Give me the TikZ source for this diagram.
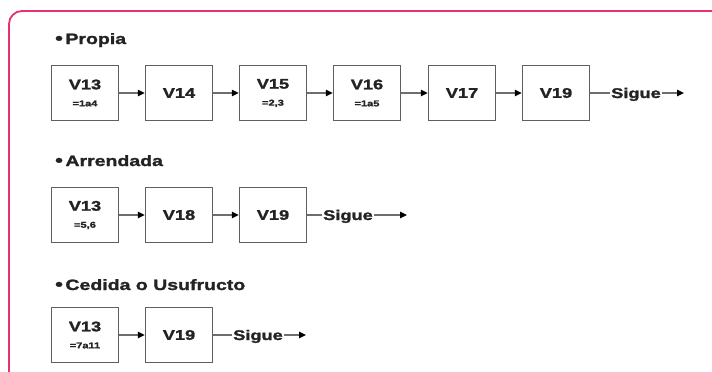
\documentclass[tikz,border=0pt]{standalone}
\usepackage{fontspec}
\setmainfont{Liberation Sans}
\newfontfamily\widefont{Liberation Sans Bold}[FakeStretch=1.3,FakeBold=1.6]
\usetikzlibrary{arrows.meta}
\definecolor{framecol}{RGB}{229,51,110}
\definecolor{boxgray}{RGB}{95,95,95}
\definecolor{linegray}{RGB}{110,110,110}
\definecolor{txt}{RGB}{35,35,35}
\newcommand\subtxt[1]{{\widefont\fontsize{8.5}{9}\selectfont #1}}
\newcommand\bul{{\fontsize{17}{17}\selectfont •}\,}
\begin{document}
\begin{tikzpicture}[x=1pt,y=-1pt,
  box/.style={draw=boxgray,line width=1.4pt,minimum width=67pt,minimum height=55pt,
    inner sep=0pt,fill=white,align=center,text=txt,
    font=\widefont\fontsize{14}{15}\selectfont},
  title/.style={anchor=base west,inner sep=0pt,text=txt,
    font=\widefont\fontsize{15}{17}\selectfont},
  sig/.style={anchor=base,inner sep=1pt,text=txt,font=\widefont\fontsize{14}{15}\selectfont},
  plain/.style={draw=linegray,line width=1.2pt},
  conn/.style={draw=linegray,line width=1.2pt,
    -{Triangle[length=7pt,width=6.5pt,color=black]}}]
\useasboundingbox (0,0) rectangle (712,372);
% frame
\draw[framecol,line width=1.8pt,rounded corners=13pt] (9,373) -- (9,11) -- (714,11);

% Row 1: Propia
\node[title] (t1) at (55,44) {\bul Propia};
\node[box] (a1) at (85,93) {V13\\[2pt]\subtxt{=1a4}};
\node[box] (a2) at (179,93) {V14};
\node[box] (a3) at (273,93) {V15\\[2pt]\subtxt{=2,3}};
\node[box] (a4) at (367,93) {V16\\[2pt]\subtxt{=1a5}};
\node[box] (a5) at (462,93) {V17};
\node[box] (a6) at (556,93) {V19};
\node[sig] (s1) at (636,98) {Sigue};
\coordinate (e1) at (684,93);
\draw[conn] (a1) -- (a2);
\draw[conn] (a2) -- (a3);
\draw[conn] (a3) -- (a4);
\draw[conn] (a4) -- (a5);
\draw[conn] (a5) -- (a6);
\draw[plain] (a6) -- (a6 -| s1.west);
\draw[conn] (s1.east |- e1) -- (e1);

% Row 2: Arrendada
\node[title] (t2) at (55,166) {\bul Arrendada};
\node[box] (b1) at (85,215) {V13\\[2pt]\subtxt{=5,6}};
\node[box] (b2) at (179,215) {V18};
\node[box] (b3) at (273,215) {V19};
\node[sig] (s2) at (348,220) {Sigue};
\coordinate (e2) at (407,215);
\draw[conn] (b1) -- (b2);
\draw[conn] (b2) -- (b3);
\draw[plain] (b3) -- (b3 -| s2.west);
\draw[conn] (s2.east |- e2) -- (e2);

% Row 3: Cedida o Usufructo
\node[title] (t3) at (55,290) {\bul Cedida o Usufructo};
\node[box] (c1) at (85,335) {V13\\[2pt]\subtxt{=7a11}};
\node[box] (c2) at (179,335) {V19};
\node[sig] (s3) at (258,340) {Sigue};
\coordinate (e3) at (306,335);
\draw[conn] (c1) -- (c2);
\draw[plain] (c2) -- (c2 -| s3.west);
\draw[conn] (s3.east |- e3) -- (e3);
\end{tikzpicture}
\end{document}
